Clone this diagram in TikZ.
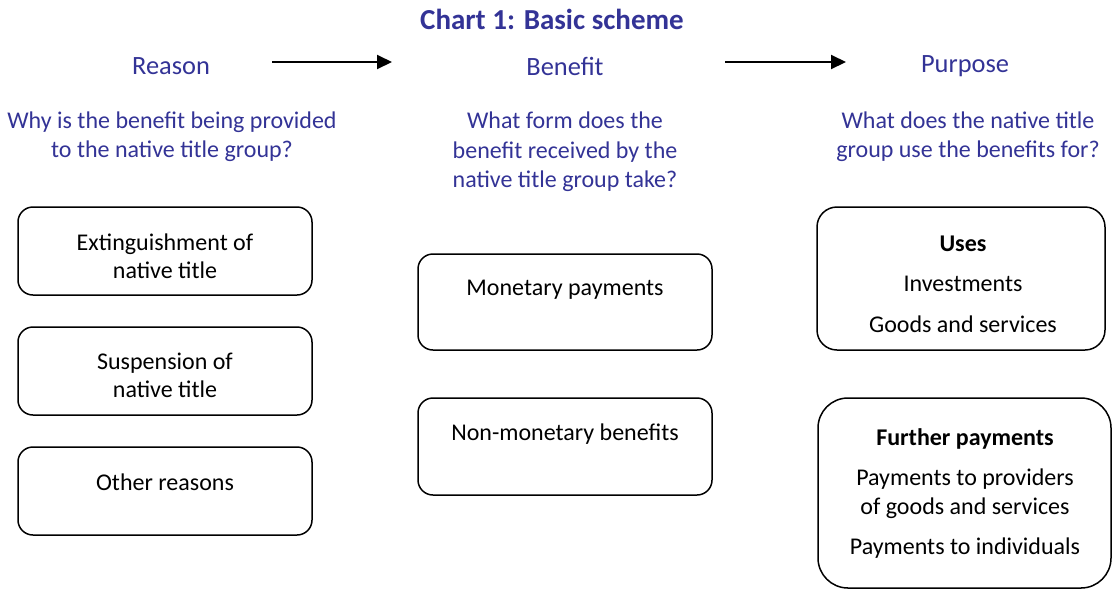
\documentclass[tikz,border=0pt]{standalone}
\usepackage{fontspec}
\setmainfont{Carlito}
\usetikzlibrary{arrows.meta}
\definecolor{headblue}{RGB}{51,51,150}
\tikzset{
  every node/.style={inner sep=0pt, outer sep=0pt},
  boxtext/.style={font=\fontsize{24}{28.5}\selectfont, align=center, text=black},
  boldtext/.style={boxtext, font=\fontsize{24}{28.5}\selectfont\bfseries},
  bluetext/.style={font=\fontsize{24}{29.5}\selectfont, align=center, text=headblue},
  headtext/.style={font=\fontsize{26.4}{30}\selectfont, text=headblue},
  itembox/.style={draw=black, line width=1.5pt, rounded corners=#1},
  itembox/.default=15pt,
  flow/.style={line width=2pt, -{Triangle[length=15pt, width=14pt]}},
}
\begin{document}
\begin{tikzpicture}[x=1pt, y=-1pt]
  \useasboundingbox (0,0) rectangle (1113,590);

  % title
  \node[font=\fontsize{29}{33}\selectfont\bfseries, text=headblue] (title) at (552,19) {Chart 1: Basic scheme};

  % column headings
  \node[headtext] (reason)  at (171,66) {Reason};
  \node[headtext] (benefit) at (565,66) {Benefit};
  \node[headtext] (purpose) at (965,66) {Purpose};

  \coordinate (a1s) at (272,62);
  \coordinate (a1e) at (392,62);
  \coordinate (a2s) at (725,62);
  \coordinate (a2e) at (846,62);
  \draw[flow] (a1s) -- (a1e);
  \draw[flow] (a2s) -- (a2e);

  % guiding questions
  \node[bluetext] (q1) at (172,136.5) {Why is the benefit being provided\\to the native title group?};
  \node[bluetext] (q2) at (565,152) {What form does the\\benefit received by the\\native title group take?};
  \node[bluetext] (q3) at (968,136.5) {What does the native title\\group use the benefits for?};

  % reasons
  \draw[itembox] (18,207) rectangle (312,295);
  \draw[itembox] (18,327) rectangle (312,415);
  \draw[itembox] (18,447) rectangle (312,535);
  \node[boxtext] (r1) at (165,256) {Extinguishment of\\native title};
  \node[boxtext] (r2) at (165,375.5) {Suspension of\\native title};
  \node[boxtext] (r3) at (165,482) {Other reasons};

  % benefits
  \draw[itembox] (418,254) rectangle (712,350);
  \draw[itembox] (418,398) rectangle (712,495);
  \node[boxtext] (b1) at (565,290) {Monetary payments};
  \node[boxtext] (b2) at (565,434) {Non-monetary benefits};

  % purposes
  \draw[itembox=20pt] (817,207) rectangle (1105,350);
  \node[boldtext] (u0) at (963,244) {Uses};
  \node[boxtext] (u1) at (963,284) {Investments};
  \node[boxtext] (u2) at (963,324) {Goods and services};

  \draw[itembox=30pt] (818,398) rectangle (1111,588);
  \node[boldtext] (f0) at (965,439) {Further payments};
  \node[boxtext] (f1) at (965,493.5) {Payments to providers\\of goods and services};
  \node[boxtext] (f2) at (965,548) {Payments to individuals};
\end{tikzpicture}
\end{document}
